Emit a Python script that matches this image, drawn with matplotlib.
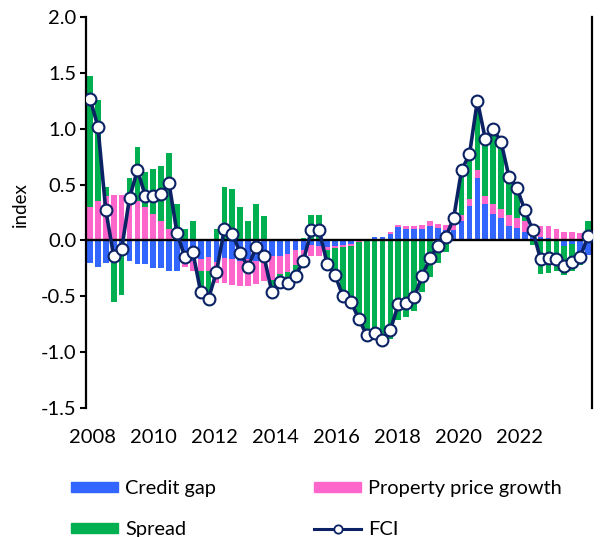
import numpy as np
import matplotlib
matplotlib.use("Agg")
import matplotlib.pyplot as plt
from matplotlib.patches import Patch
from matplotlib.lines import Line2D

plt.rcParams["font.family"] = ["Lato", "DejaVu Sans"]
plt.rcParams["axes.unicode_minus"] = False

# quarterly, 2008Q1 - 2023Q4
year_labels = ["2008", "2010", "2012", "2014", "2016", "2018", "2020", "2022"]

credit_gap = [-0.20, -0.24, -0.20, -0.20, -0.14, -0.18, -0.21, -0.21, -0.25, -0.25,
              -0.27, -0.27, -0.18, -0.18, -0.17, -0.15, -0.19, -0.16, -0.17, -0.18,
              -0.17, -0.18, -0.17, -0.14, -0.14, -0.12, -0.09, -0.09, -0.04, -0.05,
              -0.06, -0.05, -0.04, -0.03, 0.00, 0.01, 0.03, 0.03, 0.06, 0.12,
              0.10, 0.10, 0.10, 0.13, 0.11, 0.09, 0.09, 0.17, 0.31, 0.56,
              0.33, 0.24, 0.20, 0.13, 0.11, 0.08, 0.04, 0.03, 0.02, 0.01,
              -0.05, -0.03, -0.12, -0.13]
property_growth = [0.30, 0.35, 0.40, 0.41, 0.41, 0.36, 0.35, 0.30, 0.24, 0.17,
                   0.10, 0.02, -0.06, -0.09, -0.10, -0.12, -0.19, -0.22, -0.23, -0.23,
                   -0.24, -0.21, -0.19, -0.21, -0.16, -0.16, -0.13, -0.11, -0.10, -0.09,
                   -0.03, -0.02, -0.02, -0.02, -0.01, 0.00, 0.005, 0.005, 0.02, 0.02,
                   0.025, 0.025, 0.04, 0.04, 0.04, 0.045, 0.045, 0.06, 0.06, 0.075,
                   0.07, 0.09, 0.08, 0.10, 0.095, 0.095, 0.09, 0.10, 0.11, 0.09,
                   0.08, 0.08, 0.07, 0.0]
spread = [1.17, 0.91, 0.075, -0.35, -0.35, 0.20, 0.49, 0.31, 0.40, 0.50,
          0.68, 0.31, 0.10, 0.17, -0.19, -0.25, 0.10, 0.48, 0.46, 0.30,
          0.17, 0.33, 0.22, -0.11, -0.07, -0.10, -0.10, 0.02, 0.23, 0.23,
          -0.12, -0.24, -0.44, -0.50, -0.69, -0.86, -0.865, -0.90, -0.88, -0.71,
          -0.685, -0.635, -0.46, -0.33, -0.20, -0.105, 0.065, 0.40, 0.40, 0.62,
          0.51, 0.67, 0.60, 0.34, 0.26, 0.10, -0.04, -0.30, -0.29, -0.27,
          -0.26, -0.24, -0.10, 0.17]
fci = [1.27, 1.02, 0.27, -0.14, -0.08, 0.38, 0.63, 0.40, 0.40, 0.42,
       0.51, 0.07, -0.15, -0.10, -0.46, -0.52, -0.28, 0.10, 0.06, -0.11,
       -0.24, -0.06, -0.14, -0.46, -0.37, -0.38, -0.32, -0.18, 0.09, 0.09,
       -0.21, -0.31, -0.50, -0.55, -0.70, -0.85, -0.83, -0.89, -0.80, -0.57,
       -0.56, -0.51, -0.32, -0.16, -0.05, 0.03, 0.20, 0.63, 0.77, 1.25,
       0.91, 1.00, 0.88, 0.57, 0.47, 0.27, 0.09, -0.17, -0.16, -0.17,
       -0.23, -0.19, -0.15, 0.04]

c_blue = "#3366FF"
c_pink = "#FF66CC"
c_green = "#00B050"
c_navy = "#0B2265"

x = np.arange(len(fci))

fig = plt.figure(figsize=(6.02, 5.37), dpi=100)
ax = fig.add_axes([0.1429, 0.2402, 0.8405, 0.7281])

# excel style stacking: positives up from zero, negatives down from zero
pos_base = np.zeros(len(x))
neg_base = np.zeros(len(x))
for vals, col in [(credit_gap, c_blue), (property_growth, c_pink), (spread, c_green)]:
    v = np.array(vals)
    base = np.where(v >= 0, pos_base, neg_base)
    ax.bar(x, v, width=0.72, bottom=base, color=col, zorder=2)
    pos_base += np.clip(v, 0, None)
    neg_base += np.clip(v, None, 0)

ax.axhline(0, color="black", lw=1.7, zorder=3)
ax.plot(x, fci, color=c_navy, lw=2.6, marker="o", ms=8.5, mfc="white",
        mec=c_navy, mew=1.5, zorder=4)

ax.set_xlim(-0.5, len(x) - 0.5)
ax.set_ylim(-1.5, 2.0)
ax.set_yticks(np.arange(-1.5, 2.01, 0.5))
ax.set_yticklabels([f"{t:.1f}" for t in np.arange(-1.5, 2.01, 0.5)])
ax.set_xticks(np.arange(len(year_labels)) * 7.73 + 0.26)
ax.set_xticklabels(year_labels)
ax.tick_params(axis="x", length=0, pad=15, labelsize=14.5)
ax.tick_params(axis="y", direction="out", length=4, width=1.5, labelsize=14.5, pad=3)

for s in ["top", "bottom"]:
    ax.spines[s].set_visible(False)
for s in ["left", "right"]:
    ax.spines[s].set_linewidth(1.6)

ax.set_ylabel("index", fontsize=13.5)
ax.yaxis.set_label_coords(-0.112, 0.52)

handles = [
    Patch(color=c_blue, label="Credit gap"),
    Patch(color=c_green, label="Spread"),
    Patch(color=c_pink, label="Property price growth"),
    Line2D([], [], color=c_navy, lw=2.2, marker="o", ms=6, mfc="white",
           mec=c_navy, mew=1.3, label="FCI"),
]
fig.legend(handles=handles, ncol=2, loc="upper left", bbox_to_anchor=(0.118, 0.106),
           frameon=False, fontsize=14.4, handlelength=2.35, handleheight=0.45,
           handletextpad=0.35, columnspacing=4.9, labelspacing=1.2,
           borderaxespad=0, borderpad=0)

fig.savefig("out.png", dpi=100)
